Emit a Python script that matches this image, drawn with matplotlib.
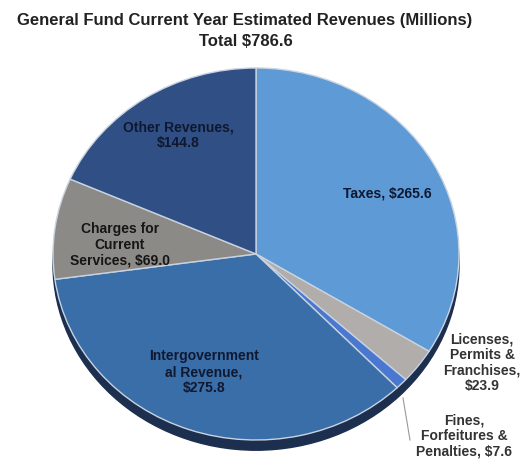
import matplotlib
matplotlib.use("Agg")
import matplotlib.pyplot as plt
from matplotlib.patches import Ellipse

plt.rcParams['font.family'] = ['Liberation Sans', 'DejaVu Sans']

categories = ["Taxes", "Licenses, Permits & Franchises", "Fines, Forfeitures & Penalties",
              "Intergovernmental Revenue", "Charges for Current Services", "Other Revenues"]
values = [265.6, 23.9, 7.6, 275.8, 69.0, 144.8]
colors = ["#5d9ad6", "#b0adaa", "#4a78d0", "#3a6ea8", "#8c8a87", "#2f4f85"]
label_texts = ["Taxes, $265.6",
               "Licenses,\nPermits &\nFranchises,\n$23.9",
               "Fines,\nForfeitures &\nPenalties, $7.6",
               "Intergovernment\nal Revenue,\n$275.8",
               "Charges for\nCurrent\nServices, $69.0",
               "Other Revenues,\n$144.8"]

W, H = 524, 461
fig = plt.figure(figsize=(W / 100, H / 100), dpi=100)

# pie box in pixels: centre (256, 254), radii 203 x 186
cx, cy, rx, ry = 256, 254, 203, 186
ax = fig.add_axes([(cx - rx) / W, (H - cy - ry) / H, 2 * rx / W, 2 * ry / H])

# dark rim under the pie for the 3d look
ax.add_patch(Ellipse((0, -0.055), 2, 2, color="#1c2f4f", zorder=0, clip_on=False))
wedges, _ = ax.pie(values, colors=colors, startangle=90, counterclock=False,
                   wedgeprops=dict(edgecolor="#c9d3e0", linewidth=1))
for w in wedges:
    w.set_zorder(1)
    w.set_clip_on(False)
ax.set_aspect('auto')
ax.set_xlim(-1, 1)
ax.set_ylim(-1, 1)
ax.axis('off')

fig.text(245 / W, 1 - 21 / H, "General Fund Current Year Estimated Revenues (Millions)",
         ha='center', va='center', fontsize=12, fontweight='bold', color='#222222')
fig.text(246 / W, 1 - 42 / H, "Total $786.6",
         ha='center', va='center', fontsize=12, fontweight='bold', color='#222222')

# label positions in pixels
pos = [(387, 193), (482, 363), (464, 436), (204, 372), (120, 245), (178, 135)]
tcol = ["#101830", "#333333", "#333333", "#101830", "#151515", "#101830"]
for t, (px, py), c in zip(label_texts, pos, tcol):
    fig.text(px / W, 1 - py / H, t, ha='center', va='center', fontsize=10,
             fontweight='bold', color=c, linespacing=1.15)

# leader line for the fines slice
fig.add_artist(plt.Line2D([403 / W, 410 / W], [1 - 398 / H, 1 - 440 / H],
                          color="#999999", linewidth=0.8))

fig.savefig("out.png", dpi=100)
